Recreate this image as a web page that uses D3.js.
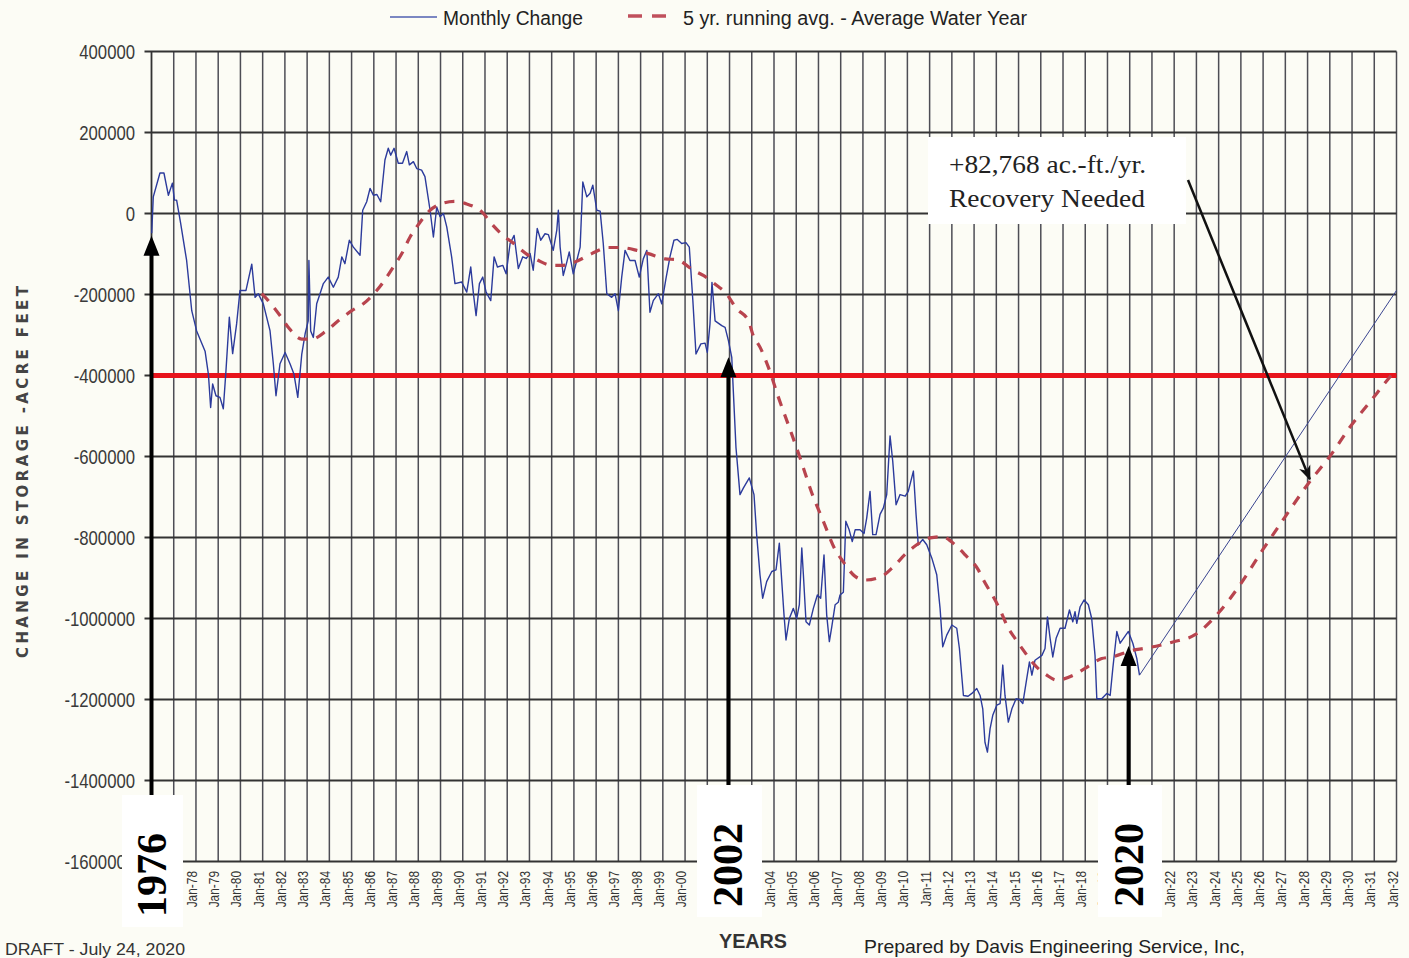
<!DOCTYPE html>
<html>
<head>
<meta charset="utf-8">
<script src="https://cdn.jsdelivr.net/npm/d3@7"></script>
<style>
html,body{margin:0;padding:0;background:#fcfcf5;}
svg{display:block;}
</style>
</head>
<body>
<svg id="chart" width="1409" height="958"></svg>
<script>
// ---------------- DATA ----------------
const yTickValues = [400000, 200000, 0, -200000, -400000, -600000, -800000, -1000000, -1200000, -1400000, -1600000];
const xTickYears = d3.range(1977, 2033);
const xTickLabels = xTickYears.map(y => "Jan-" + String(y % 100).padStart(2, "0"));

const monthlyYears = [1976.01,1976.08,1976.38,1976.56,1976.76,1976.94,1977.03,1977.13,1977.31,1977.58,1977.81,1978.03,1978.41,1978.56,1978.66,1978.75,1978.90,1979.08,1979.23,1979.35,1979.50,1979.65,1979.83,1979.98,1980.25,1980.51,1980.66,1980.80,1981.03,1981.33,1981.48,1981.60,1981.78,1982.01,1982.23,1982.41,1982.58,1982.76,1982.91,1983.05,1983.08,1983.16,1983.28,1983.43,1983.58,1983.73,1983.95,1984.18,1984.40,1984.56,1984.70,1984.90,1985.08,1985.38,1985.50,1985.68,1985.83,1985.98,1986.14,1986.31,1986.50,1986.65,1986.76,1986.91,1987.10,1987.29,1987.48,1987.60,1987.78,1987.93,1988.15,1988.30,1988.53,1988.68,1988.83,1988.98,1989.13,1989.28,1989.50,1989.65,1989.95,1990.18,1990.36,1990.48,1990.60,1990.75,1990.90,1991.05,1991.26,1991.41,1991.56,1991.80,1991.95,1992.13,1992.31,1992.50,1992.70,1992.85,1993.03,1993.17,1993.35,1993.51,1993.70,1993.85,1994.07,1994.23,1994.30,1994.38,1994.52,1994.68,1994.79,1994.97,1995.13,1995.28,1995.40,1995.58,1995.73,1995.85,1996.03,1996.18,1996.32,1996.48,1996.70,1996.85,1997.00,1997.15,1997.30,1997.52,1997.75,1997.94,1998.12,1998.28,1998.42,1998.57,1998.80,1998.95,1999.14,1999.32,1999.50,1999.65,1999.85,2000.04,2000.19,2000.35,2000.49,2000.71,2000.90,2001.00,2001.12,2001.21,2001.35,2001.65,2001.80,2001.95,2002.10,2002.17,2002.29,2002.47,2002.62,2002.89,2003.10,2003.22,2003.37,2003.49,2003.67,2003.90,2004.09,2004.24,2004.35,2004.45,2004.54,2004.69,2004.87,2005.02,2005.14,2005.25,2005.32,2005.44,2005.59,2005.77,2005.95,2006.10,2006.25,2006.37,2006.49,2006.60,2006.75,2006.89,2006.97,2007.12,2007.23,2007.38,2007.52,2007.65,2007.87,2008.05,2008.17,2008.32,2008.44,2008.59,2008.77,2008.92,2009.07,2009.22,2009.34,2009.49,2009.67,2009.90,2010.04,2010.27,2010.39,2010.49,2010.69,2010.87,2011.10,2011.32,2011.47,2011.59,2011.77,2012.00,2012.22,2012.34,2012.52,2012.73,2012.90,2013.12,2013.27,2013.39,2013.49,2013.60,2013.72,2013.84,2014.02,2014.17,2014.29,2014.39,2014.54,2014.70,2014.89,2015.04,2015.19,2015.37,2015.49,2015.60,2015.74,2016.05,2016.19,2016.30,2016.42,2016.54,2016.69,2016.87,2017.09,2017.29,2017.44,2017.54,2017.62,2017.77,2017.95,2018.14,2018.29,2018.44,2018.52,2018.74,2018.97,2019.12,2019.24,2019.42,2019.57,2019.72,2019.94,2020.14,2020.32,2020.44];
const monthlyValues = [-49000,41000,100000,100000,45000,75000,33000,33000,-24000,-116000,-240000,-290000,-340000,-397000,-479000,-421000,-450000,-454000,-482000,-388000,-256000,-346000,-272000,-190000,-190000,-125000,-207000,-198000,-223000,-289000,-371000,-450000,-371000,-343000,-371000,-397000,-454000,-347000,-297000,-265000,-116000,-290000,-306000,-223000,-198000,-173000,-157000,-182000,-157000,-107000,-124000,-66000,-83000,-103000,8000,29000,62000,45000,47000,29000,132000,161000,144000,161000,124000,124000,153000,120000,128000,111000,107000,91000,8000,-58000,16000,-8000,0,-33000,-107000,-173000,-169000,-194000,-132000,-198000,-252000,-173000,-157000,-194000,-215000,-107000,-132000,-128000,-149000,-74000,-54000,-136000,-107000,-111000,-99000,-140000,-37000,-66000,-50000,-52000,-91000,-41000,8000,-83000,-153000,-120000,-95000,-149000,-116000,-83000,78000,41000,50000,70000,8000,6000,-74000,-198000,-207000,-198000,-240000,-157000,-91000,-116000,-116000,-157000,-112000,-91000,-244000,-215000,-198000,-223000,-161000,-107000,-66000,-64000,-74000,-72000,-83000,-215000,-347000,-322000,-320000,-343000,-273000,-170000,-265000,-277000,-281000,-314000,-355000,-438000,-578000,-694000,-678000,-653000,-694000,-793000,-892000,-950000,-909000,-884000,-880000,-814000,-909000,-991000,-1053000,-1000000,-975000,-1000000,-966000,-826000,-890000,-1008000,-1016000,-975000,-942000,-950000,-843000,-991000,-1057000,-1020000,-966000,-960000,-942000,-935000,-760000,-781000,-810000,-781000,-781000,-790000,-752000,-686000,-793000,-793000,-743000,-727000,-694000,-549000,-611000,-719000,-694000,-698000,-686000,-636000,-743000,-818000,-805000,-818000,-851000,-892000,-975000,-1070000,-1041000,-1016000,-1024000,-1074000,-1190000,-1192000,-1185000,-1173000,-1190000,-1223000,-1306000,-1330000,-1272000,-1239000,-1214000,-1210000,-1115000,-1190000,-1256000,-1223000,-1198000,-1200000,-1210000,-1148000,-1107000,-1140000,-1103000,-1091000,-1074000,-996000,-1049000,-1095000,-1049000,-1024000,-1024000,-979000,-1008000,-983000,-1012000,-971000,-954000,-966000,-1000000,-1091000,-1198000,-1198000,-1185000,-1190000,-1123000,-1032000,-1061000,-1049000,-1032000,-1061000,-1099000,-1140000];

const avgYears = [1980.96,1981.25,1981.78,1982.15,1982.76,1983.21,1983.88,1984.40,1985.01,1985.53,1986.13,1986.43,1986.88,1987.26,1987.63,1987.93,1988.53,1988.98,1989.65,1990.10,1990.93,1991.23,1991.90,1992.20,1992.95,1993.33,1994.00,1994.52,1995.20,1995.80,1996.55,1997.08,1997.83,1998.35,1999.10,1999.63,2000.37,2000.82,2001.43,2001.80,2002.32,2002.85,2003.07,2003.37,2003.75,2004.20,2004.72,2005.17,2005.70,2006.22,2006.75,2007.05,2007.65,2008.10,2008.85,2009.30,2009.97,2010.42,2011.02,2011.55,2012.22,2012.60,2013.19,2013.42,2013.94,2014.17,2014.54,2014.84,2015.37,2015.60,2016.27,2016.72,2017.47,2017.99,2018.74,2019.19,2020.17,2020.62,2021.37,2021.95,2022.94,2023.98,2024.96,2026.00,2026.99,2028.11,2029.01,2029.91,2030.81,2031.71,2031.98];
const avgValues = [-198000,-215000,-252000,-281000,-310000,-310000,-289000,-265000,-240000,-223000,-190000,-169000,-132000,-99000,-58000,-33000,8000,23000,30000,25000,0,-21000,-58000,-70000,-103000,-114000,-128000,-128000,-116000,-99000,-84000,-84000,-91000,-99000,-112000,-114000,-140000,-153000,-178000,-194000,-235000,-265000,-302000,-330000,-380000,-454000,-533000,-603000,-690000,-760000,-830000,-855000,-896000,-905000,-896000,-876000,-838000,-818000,-801000,-798000,-822000,-843000,-880000,-905000,-954000,-979000,-1024000,-1049000,-1090000,-1107000,-1140000,-1152000,-1140000,-1123000,-1099000,-1095000,-1078000,-1074000,-1066000,-1058000,-1040000,-987000,-917000,-829000,-749000,-661000,-599000,-527000,-465000,-403000,-385000];

const projectionYears = [2020.44, 2032.0];
const projectionValues = [-1140000, -190000];
const targetLevel = -400000;

// ---------------- LAYOUT ----------------
const svg = d3.select("#chart");
const x = d3.scaleLinear().domain([1976, 2032]).range([151.5, 1396.5]);
const y = d3.scaleLinear().domain([400000, -1600000]).range([51.5, 861.5]);
const sans = "'Liberation Sans', Arial, sans-serif";

// vertical grid
const g = svg.append("g");
g.selectAll(".vg").data(xTickYears).enter().append("line")
  .attr("x1", d => x(d)).attr("x2", d => x(d))
  .attr("y1", y(400000)).attr("y2", y(-1600000))
  .attr("stroke", "#4d4d55").attr("stroke-width", 1.5);

// horizontal grid
g.selectAll(".hg").data(yTickValues).enter().append("line")
  .attr("x1", x(1976) - 7).attr("x2", x(2032))
  .attr("y1", d => y(d)).attr("y2", d => y(d))
  .attr("stroke", "#333").attr("stroke-width", 1.8);

// left axis
g.append("line").attr("x1", x(1976)).attr("x2", x(1976))
  .attr("y1", y(400000)).attr("y2", y(-1600000))
  .attr("stroke", "#333").attr("stroke-width", 1.8);

// y tick labels (condensed look)
svg.append("g").selectAll("text").data(yTickValues).enter().append("text")
  .attr("transform", d => `translate(135,${y(d) + 7}) scale(0.88,1.1)`)
  .attr("text-anchor", "end")
  .attr("font-family", sans).attr("font-size", 19)
  .attr("fill", "#3a3a3a")
  .text(d => String(d));

// x tick labels
svg.append("g").selectAll("text").data(xTickYears).enter().append("text")
  .attr("transform", (d) => `translate(${x(d) + 1},871) rotate(-90) scale(0.85,1)`)
  .attr("text-anchor", "end")
  .attr("font-family", sans).attr("font-size", 14)
  .attr("fill", "#333")
  .text((d, i) => xTickLabels[i]);

// red target line
svg.append("line")
  .attr("x1", x(1976)).attr("x2", x(2032))
  .attr("y1", y(targetLevel)).attr("y2", y(targetLevel))
  .attr("stroke", "#e8141c").attr("stroke-width", 5);

// monthly line
const monthly = monthlyYears.map((t, i) => [t, monthlyValues[i]]);
const line = d3.line().x(d => x(d[0])).y(d => y(d[1]));
svg.append("path").datum(monthly).attr("d", line)
  .attr("fill", "none").attr("stroke", "#2c3b9c").attr("stroke-width", 1.4)
  .attr("stroke-linejoin", "round");

// projection
const proj = projectionYears.map((t, i) => [t, projectionValues[i]]);
svg.append("path").datum(proj).attr("d", line)
  .attr("fill", "none").attr("stroke", "#3a4590").attr("stroke-width", 1);

// 5-yr running avg
const avg = avgYears.map((t, i) => [t, avgValues[i]]);
svg.append("path").datum(avg).attr("d", d3.line().x(d => x(d[0])).y(d => y(d[1])).curve(d3.curveMonotoneX))
  .attr("fill", "none").attr("stroke", "#b8444e").attr("stroke-width", 3.2)
  .attr("stroke-dasharray", "10,9");

// legend
const leg = svg.append("g");
leg.append("line").attr("x1", 390).attr("x2", 437).attr("y1", 17).attr("y2", 17)
  .attr("stroke", "#5060b0").attr("stroke-width", 1.5);
leg.append("text").attr("x", 443).attr("y", 25).attr("font-family", sans).attr("font-size", 20)
  .attr("fill", "#222").attr("textLength", 140).attr("lengthAdjust", "spacingAndGlyphs").text("Monthly Change");
leg.append("line").attr("x1", 628).attr("x2", 673).attr("y1", 16).attr("y2", 16)
  .attr("stroke", "#c0505c").attr("stroke-width", 3.5).attr("stroke-dasharray", "14,10");
leg.append("text").attr("x", 683).attr("y", 25).attr("font-family", sans).attr("font-size", 20)
  .attr("fill", "#222").attr("textLength", 344).attr("lengthAdjust", "spacingAndGlyphs")
  .text("5 yr. running avg. - Average Water Year");

// y axis title
svg.append("text")
  .attr("transform", "translate(28,472) rotate(-90)")
  .attr("text-anchor", "middle")
  .attr("font-family", "'DejaVu Sans', sans-serif").attr("font-size", 15)
  .attr("font-weight", "bold").attr("fill", "#444")
  .attr("textLength", 372).attr("lengthAdjust", "spacing")
  .text("CHANGE IN STORAGE -ACRE FEET");

// annotation box
svg.append("rect").attr("x", 928).attr("y", 137).attr("width", 258).attr("height", 87).attr("fill", "#ffffff");
svg.append("text").attr("x", 949).attr("y", 173).attr("font-family", "'Liberation Serif', serif")
  .attr("font-size", 25).attr("fill", "#222").attr("textLength", 197).attr("lengthAdjust", "spacingAndGlyphs")
  .text("+82,768 ac.-ft./yr.");
svg.append("text").attr("x", 949).attr("y", 207).attr("font-family", "'Liberation Serif', serif")
  .attr("font-size", 25).attr("fill", "#222").attr("textLength", 196).attr("lengthAdjust", "spacingAndGlyphs")
  .text("Recovery Needed");

// diagonal arrow
const defs = svg.append("defs");
defs.append("marker").attr("id", "diag").attr("viewBox", "0 0 10 10").attr("refX", 9).attr("refY", 5)
  .attr("markerWidth", 6).attr("markerHeight", 6).attr("orient", "auto").attr("markerUnits", "strokeWidth")
  .append("path").attr("d", "M0,1 L10,5 L0,9 L3,5 Z").attr("fill", "#111");
svg.append("line").attr("x1", 1188).attr("y1", 180).attr("x2", x(2028.1)).attr("y2", y(-661000) - 2)
  .attr("stroke", "#111").attr("stroke-width", 2.5).attr("marker-end", "url(#diag)");

// year boxes + vertical arrows
const yearMarks = [
  {label: "1976", year: 1976, tipValue: -55000, boxX: 122, boxW: 61, boxY: 795, boxH: 132, textY: 875},
  {label: "2002", year: 2001.95, tipValue: -355000, boxX: 697, boxW: 65, boxY: 785, boxH: 132, textY: 865},
  {label: "2020", year: 2019.95, tipValue: -1068000, boxX: 1098, boxW: 64, boxY: 785, boxH: 132, textY: 865}
];
const ym = svg.append("g");
yearMarks.forEach(m => {
  const ax = x(m.year);
  const tip = y(m.tipValue);
  ym.append("line").attr("x1", ax).attr("x2", ax).attr("y1", m.boxY).attr("y2", tip + 18)
    .attr("stroke", "#000").attr("stroke-width", 4);
  ym.append("path").attr("d", `M${ax},${tip} L${ax - 8},${tip + 20} L${ax + 8},${tip + 20} Z`).attr("fill", "#000");
  ym.append("rect").attr("x", m.boxX).attr("y", m.boxY).attr("width", m.boxW).attr("height", m.boxH).attr("fill", "#ffffff");
  ym.append("text")
    .attr("transform", `translate(${ax + 14},${m.textY}) rotate(-90)`)
    .attr("text-anchor", "middle")
    .attr("font-family", "'Liberation Serif', 'DejaVu Serif', serif").attr("font-weight", "bold")
    .attr("font-size", 42).attr("fill", "#000")
    .text(m.label);
});

// footer texts
svg.append("text").attr("x", 5).attr("y", 955).attr("font-family", sans).attr("font-size", 17)
  .attr("fill", "#333").attr("textLength", 180).attr("lengthAdjust", "spacingAndGlyphs").text("DRAFT - July 24, 2020");
svg.append("text").attr("x", 719).attr("y", 948).attr("font-family", sans).attr("font-size", 20)
  .attr("font-weight", "bold").attr("fill", "#333").attr("textLength", 68).attr("lengthAdjust", "spacingAndGlyphs").text("YEARS");
svg.append("text").attr("x", 864).attr("y", 953).attr("font-family", sans).attr("font-size", 19)
  .attr("fill", "#222").attr("textLength", 381).attr("lengthAdjust", "spacingAndGlyphs")
  .text("Prepared by Davis Engineering Service, Inc,");
</script>
</body>
</html>
